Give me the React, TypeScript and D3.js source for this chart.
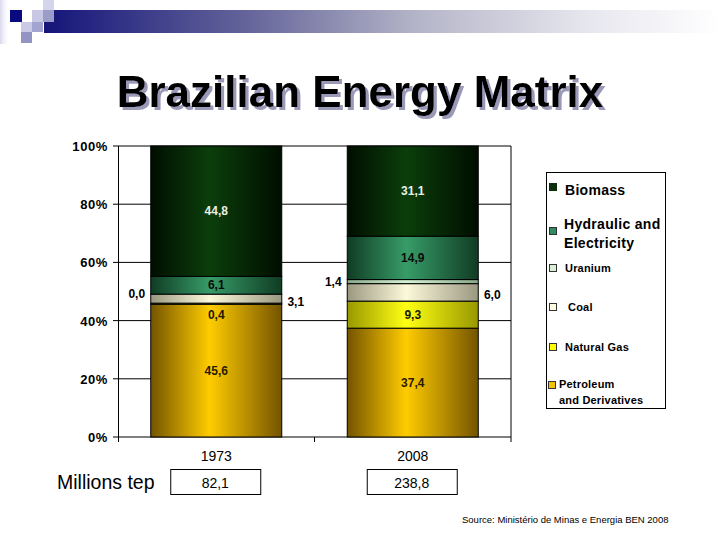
import React from "react";
import * as d3 from "d3";

const years = ["1973", "2008"];
const sources = [
  "Petroleum and Derivatives",
  "Natural Gas",
  "Coal",
  "Uranium",
  "Hydraulic and Electricity",
  "Biomass",
];
const share1973 = [45.6, 0.4, 3.1, 0.0, 6.1, 44.8];
const share2008 = [37.4, 9.3, 6.0, 1.4, 14.9, 31.1];
const totalsMtep = [82.1, 238.8];
const yTicks = [0, 20, 40, 60, 80, 100];
const placement1973 = ["center", "below", "right", "left", "center", "center"];
const placement2008 = ["center", "center", "right", "left", "center", "center"];

const shares = [share1973, share2008];
const placements = [placement1973, placement2008];

const segColors = [
  { dark: "#745400", bright: "#ffcc00", marker: "#f2c200", label: "#2a1a00" },
  { dark: "#989800", bright: "#ffff14", marker: "#ffff00", label: "#1a1a00" },
  { dark: "#9a9880", bright: "#fcf9da", marker: "#fffde4", label: "#111" },
  { dark: "#88a888", bright: "#d6f2d6", marker: "#d8f0d8", label: "#111" },
  { dark: "#103c24", bright: "#379c68", marker: "#2e8b60", label: "#0a0a0a" },
  { dark: "#000e00", bright: "#0b3e0b", marker: "#0b2e0b", label: "#e8f0e4" },
];

const fmt = (v: number) => d3.format(".1f")(v).replace(".", ",");
const FONT = "Liberation Sans, Arial, sans-serif";

export default function App() {
  const W = 720;
  const H = 540;
  const x = d3
    .scaleBand<string>()
    .domain(years)
    .range([118, 511])
    .paddingInner(1 / 3)
    .paddingOuter(1 / 6);
  const y = d3.scaleLinear().domain([0, 100]).range([437, 146]);
  const bw = x.bandwidth();

  const stackData = years.map((yr, i) => {
    const obj: any = { year: yr };
    sources.forEach((s, j) => (obj[s] = shares[i][j]));
    return obj;
  });
  const series = d3.stack<any>().keys(sources)(stackData);

  const legendItems = [
    { idx: 5, lines: ["Biomass"], tx: 565, ty: [190], mx: 549, my: 183, ms: 7, big: true },
    { idx: 4, lines: ["Hydraulic and", "Electricity"], tx: 564, ty: [224, 243], mx: 549, my: 227, ms: 7, big: true },
    { idx: 3, lines: ["Uranium"], tx: 565, ty: [268], mx: 549, my: 264, ms: 7, big: false },
    { idx: 2, lines: ["Coal"], tx: 568, ty: [307], mx: 549, my: 303, ms: 7, big: false },
    { idx: 1, lines: ["Natural Gas"], tx: 565, ty: [347], mx: 549, my: 343, ms: 7, big: false },
    { idx: 0, lines: ["Petroleum", "and Derivatives"], tx: 559, ty: [384, 400], mx: 548, my: 381, ms: 7, big: false },
  ];

  return (
    <svg width={W} height={H} style={{ display: "block", position: "absolute", left: 0, top: 0 }}>
      <defs>
        <linearGradient id="hdr" x1="0" x2="1" y1="0" y2="0">
          <stop offset="0" stopColor="#14147a" />
          <stop offset="0.3" stopColor="#64649a" />
          <stop offset="0.55" stopColor="#b4b4c8" />
          <stop offset="0.8" stopColor="#e6e6ee" />
          <stop offset="1" stopColor="#ffffff" />
        </linearGradient>
        <linearGradient id="leftfade" x1="0" x2="1" y1="0" y2="0">
          <stop offset="0" stopColor="#d8d8ec" />
          <stop offset="1" stopColor="#ffffff" stopOpacity="0" />
        </linearGradient>
        <filter id="tshadow" x="-5%" y="-20%" width="110%" height="150%">
          <feOffset in="SourceAlpha" dx="3" dy="3" result="off" />
          <feFlood floodColor="#9a9ab8" result="col" />
          <feComposite in="col" in2="off" operator="in" result="sh" />
          <feMerge>
            <feMergeNode in="sh" />
            <feMergeNode in="SourceGraphic" />
          </feMerge>
        </filter>
        {segColors.map((c, i) => (
          <linearGradient key={i} id={`seg${i}`} x1="0" x2="1" y1="0" y2="0">
            <stop offset="0" stopColor={c.dark} />
            <stop offset="0.45" stopColor={c.bright} />
            <stop offset="1" stopColor={c.dark} />
          </linearGradient>
        ))}
      </defs>
      <rect width={W} height={H} fill="#ffffff" />

      {/* header decoration */}
      <rect x={0} y={0} width={10} height={44} fill="url(#leftfade)" />
      <rect x={44} y={10} width={676} height={23} fill="url(#hdr)" />
      <rect x={10} y={10} width={12} height={12} fill="#0a0a80" />
      <rect x={32} y={10} width={12} height={12} fill="#c8c8e4" />
      <rect x={43} y={0} width={11} height={10} fill="#d4d4ea" />
      <rect x={43} y={10} width={11} height={12} fill="#9c9cc8" />
      <rect x={21} y={22} width={11} height={10} fill="#cacae6" />
      <rect x={32} y={22} width={11} height={10} fill="#a4a4d2" />
      <rect x={21} y={32} width={11} height={11} fill="#9494c4" />

      {/* title */}
      <text x={360} y={107} textAnchor="middle" fontFamily={FONT} fontWeight="bold" fontSize={44} fill="#000" filter="url(#tshadow)">
        Brazilian Energy Matrix
      </text>

      {/* gridlines */}
      {yTicks.map((t) => (
        <g key={t}>
          <line x1={113} x2={511} y1={y(t)} y2={y(t)} stroke="#000" strokeWidth={1} />
          <text x={108} y={y(t) + 5} textAnchor="end" fontFamily={FONT} fontWeight="bold" fontSize={13} letterSpacing={0.6} fill="#000">
            {t}%
          </text>
        </g>
      ))}
      <line x1={118.5} x2={118.5} y1={y(100)} y2={y(0)} stroke="#000" />
      <line x1={511} x2={511} y1={y(100)} y2={y(0)} stroke="#000" />
      {[118.5, (x("2008") as number) - bw / 4, 511].map((tx, i) => (
        <line key={i} x1={tx} x2={tx} y1={y(0)} y2={y(0) + 5} stroke="#000" />
      ))}

      {/* bars */}
      {series.map((s, j) => (
        <g key={sources[j]}>
          {s.map((d, i) => {
            const x0 = x(years[i]) as number;
            const top = y(Math.min(d[1], 100));
            const bot = y(d[0]);
            return (
              <rect key={i} x={x0} y={top} width={bw} height={Math.max(0, bot - top)} fill={`url(#seg${j})`} stroke="#000" strokeWidth={1} />
            );
          })}
        </g>
      ))}

      {/* data labels */}
      {series.map((s, j) =>
        s.map((d, i) => {
          const x0 = x(years[i]) as number;
          const pl = placements[i][j];
          const mid = y((d[0] + d[1]) / 2);
          let lx = x0 + bw / 2;
          let ly = mid + 4;
          let fill = segColors[j].label;
          if (pl === "left") {
            lx = x0 - 14;
            fill = "#000";
          } else if (pl === "right") {
            lx = x0 + bw + 14;
            ly = mid + 7;
            fill = "#000";
          } else if (pl === "below") {
            ly = y(d[0]) + 15;
          }
          return (
            <text key={`${j}-${i}`} x={lx} y={ly} textAnchor="middle" fontFamily={FONT} fontWeight="bold" fontSize={12} fill={fill}>
              {fmt(shares[i][j])}
            </text>
          );
        })
      )}

      {/* legend */}
      <rect x={546.5} y={172.5} width={119} height={236} fill="none" stroke="#000" />
      {legendItems.map((it) => (
        <g key={it.idx}>
          <rect x={it.mx + 0.5} y={it.my + 0.5} width={it.ms} height={it.ms} fill={segColors[it.idx].marker} stroke={it.idx === 5 ? segColors[5].marker : "#333"} strokeWidth={1} />
          {it.lines.map((ln, k) => (
            <text key={k} x={it.tx} y={it.ty[k] + (it.big ? 5 : 4)} fontFamily={FONT} fontWeight="bold" fontSize={it.big ? 14 : 11} letterSpacing={it.big ? 0.3 : 0.2} fill="#000">
              {ln}
            </text>
          ))}
        </g>
      ))}

      {/* category labels and totals */}
      {years.map((yr, i) => {
        const cx = (x(yr) as number) + bw / 2;
        return (
          <g key={yr}>
            <text x={cx} y={461} textAnchor="middle" fontFamily={FONT} fontSize={14} fill="#000">
              {yr}
            </text>
            <rect x={cx - 45.5} y={469.5} width={90} height={25} fill="none" stroke="#000" />
            <text x={cx - 1} y={488} textAnchor="middle" fontFamily={FONT} fontSize={14} fill="#000">
              {fmt(totalsMtep[i])}
            </text>
          </g>
        );
      })}
      <text x={57} y={489} fontFamily={FONT} fontSize={19.5} fill="#000">
        Millions tep
      </text>

      <text x={462} y={523} fontFamily={FONT} fontSize={9.5} fill="#000">
        Source: Ministério de Minas e Energia BEN 2008
      </text>
    </svg>
  );
}
